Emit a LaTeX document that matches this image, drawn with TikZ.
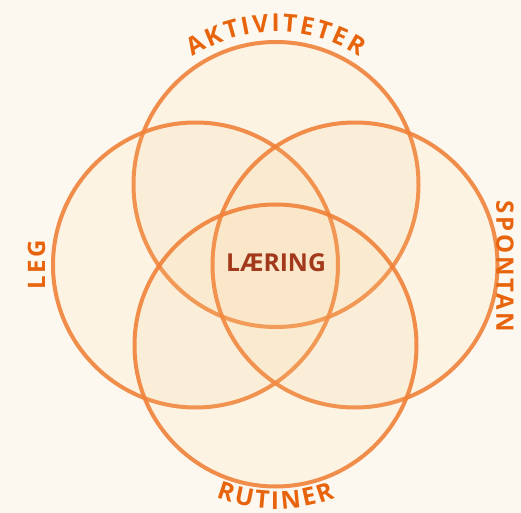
\documentclass[tikz,border=0pt]{standalone}
\usepackage{fontspec}
\usepackage{tikz}
\usetikzlibrary{decorations.text}
\newfontfamily\labelfont[LetterSpace=11]{Open Sans}
\newfontfamily\centrefont{Open Sans}
\definecolor{bgcream}{RGB}{253,248,239}
\definecolor{ringorange}{RGB}{240,130,58}
\definecolor{ringfill}{RGB}{250,200,130}
\definecolor{labelorange}{RGB}{232,100,12}
\definecolor{centrebrown}{RGB}{163,57,28}
\newcommand{\labelstyle}{\labelfont\bfseries\fontsize{18pt}{20pt}\selectfont}
\newcommand{\arcstyle}{\centrefont\bfseries\fontsize{18.5pt}{20pt}\selectfont}

\begin{document}
\begin{tikzpicture}[x=0.75pt,y=0.75pt,yscale=-1,xscale=1,
    ring/.style={draw=ringorange, line width=3pt, fill=ringfill, fill opacity=0.1, draw opacity=0.9},
    sidelabel/.style={font=\labelstyle, text=labelorange, inner sep=0pt},
    arclabel/.style={decorate, decoration={text effects along path, text={#1}, text align=center,
        text effects/.cd, text along path, characters={text=labelorange, font=\arcstyle},
        character widths={font=\arcstyle, inner xsep=0.9pt}}}]
    \useasboundingbox (0,0) rectangle (521,513);
    \fill [bgcream] (0,0) rectangle (521,513);

    % Centres of the four circles
    \coordinate (top) at (276,184.5);
    \coordinate (left) at (195.5,265);
    \coordinate (right) at (355,265);
    \coordinate (bottom) at (275.5,345.5);

    %Shape: Circle
    \filldraw [ring] (top) circle (142.5);
    %Shape: Circle
    \filldraw [ring] (left) circle (142.5);
    %Shape: Circle
    \filldraw [ring] (right) circle (142.5);
    %Shape: Circle
    \filldraw [ring] (bottom) circle (141);

    % Curved labels
    \path [arclabel=AKTIVITETER] (top) ++(-150:152.5) arc [start angle=-150, end angle=-30, radius=152.5];
    \path [arclabel=RUTINER] (bottom) ++(150:163.5) arc [start angle=150, end angle=30, radius=163.5];

    % Text Node
    \node [sidelabel, rotate=90] (leg) at (36.5,265) {LEG};
    % Text Node
    \node [sidelabel, rotate=-90] (spontan) at (505,266.5) {SPONTAN};
    % Text Node
    \node [inner sep=0pt, text=centrebrown, font=\centrefont\bfseries\fontsize{18.5pt}{20pt}\selectfont] (laering) at (276,263) {LÆRING};
\end{tikzpicture}
\end{document}
